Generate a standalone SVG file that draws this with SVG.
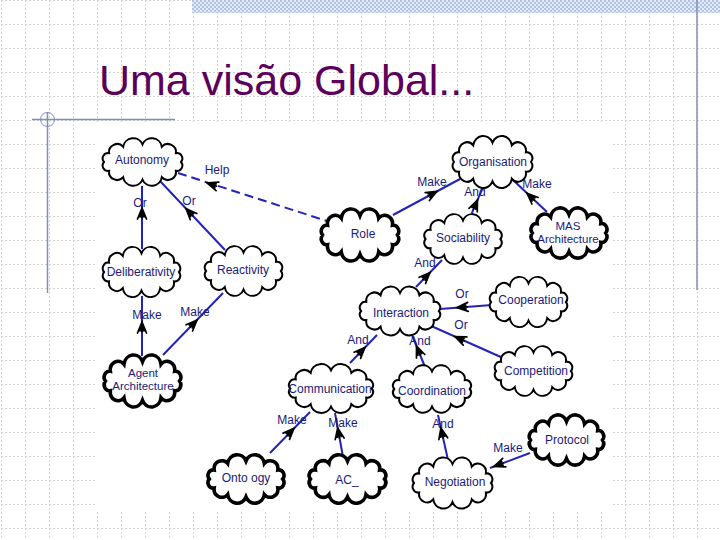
<svg xmlns="http://www.w3.org/2000/svg" width="720" height="540" viewBox="0 0 720 540">
<defs>
<style>
.c{fill:#fff;stroke:#000;stroke-width:2}
.ct{fill:#fff;stroke:#000;stroke-width:3.6}
.nt{font-family:"Liberation Sans",Arial,sans-serif;font-size:12px;fill:#1a1a7a;text-anchor:middle}
.n2{font-size:11.5px}
.ln{stroke:#2323b8;stroke-width:2;fill:none}
.dash{stroke-dasharray:9,5}
.lb{font-family:"Liberation Sans",Arial,sans-serif;font-size:12px;fill:#1a1a7a;text-anchor:middle}
.ahs{stroke:#000;stroke-width:1.7;fill:none;stroke-linecap:round}
</style>
<pattern id="grid" x="1" y="0" width="24" height="24" patternUnits="userSpaceOnUse">
<path d="M0,0.5 H24 M0.5,0 V24" stroke="#d2d2d2" stroke-width="1" stroke-dasharray="2,2" fill="none"/>
</pattern>
<pattern id="chk" width="4" height="4" patternUnits="userSpaceOnUse">
<rect width="4" height="4" fill="#e4eaf6"/>
<rect width="2" height="2" fill="#b3c3e6"/>
<rect x="2" y="2" width="2" height="2" fill="#b3c3e6"/>
</pattern>
<path id="cloud" vector-effect="non-scaling-stroke" d="M36,0 A5.2,5.2 0 0 1 31.2,8.5 A7.6,7.6 0 0 1 18,14.7 A9.4,9.4 0 0 1 0,17 A9.4,9.4 0 0 1 -18,14.7 A7.6,7.6 0 0 1 -31.2,8.5 A5.2,5.2 0 0 1 -36,0 A5.2,5.2 0 0 1 -31.2,-8.5 A7.6,7.6 0 0 1 -18,-14.7 A9.4,9.4 0 0 1 0,-17 A9.4,9.4 0 0 1 18,-14.7 A7.6,7.6 0 0 1 31.2,-8.5 A5.2,5.2 0 0 1 36,0 Z"/>
<path id="ah" class="ahs" d="M-11,-4.5 L0,0 L-11,4.5 M-1,0 L-10,0 M-9,-2 L-2,0 L-9,2"/>
</defs>

<rect width="720" height="540" fill="#fff"/>
<rect width="720" height="540" fill="url(#grid)"/>
<rect x="192" y="0" width="528" height="13" fill="url(#chk)"/>
<line x1="697" y1="0" x2="697" y2="290" stroke="#7f8fba" stroke-width="1.5"/>
<line x1="32" y1="119.5" x2="175" y2="119.5" stroke="#7f8fba" stroke-width="1.5"/>
<line x1="47.5" y1="112" x2="47.5" y2="293" stroke="#7f8fba" stroke-width="1.5"/>
<circle cx="47.5" cy="119.5" r="7" fill="none" stroke="#7f8fba" stroke-width="1"/>
<text x="99" y="95" font-family="Liberation Sans, Arial, sans-serif" font-size="43" fill="#5c005c">Uma visão Global...</text>
<rect x="97" y="122" width="514" height="390" fill="#fff"/>

<g id="connectors">
<path class="ln dash" d="M178,173 L330,222"/>
<path class="ln" d="M142,186 L142,249"/>
<path class="ln" d="M160,181 L225,250"/>
<path class="ln" d="M142,296 L142,356"/>
<path class="ln" d="M163,355 L223,293"/>
<path class="ln" d="M393,215 L460,179"/>
<path class="ln" d="M471.7,213.3 L484,185"/>
<path class="ln" d="M547,212 L513,180"/>
<path class="ln" d="M416,287 L442,260"/>
<path class="ln" d="M492,305 L440,309"/>
<path class="ln" d="M503,358 L429,325"/>
<path class="ln" d="M350,363 L377,335"/>
<path class="ln" d="M425,367 L412,335"/>
<path class="ln" d="M270,453 L310,412"/>
<path class="ln" d="M343,457 L335,413"/>
<path class="ln" d="M448,460 L438,415"/>
<path class="ln" d="M530,453 L490,468"/>
<use href="#ah" transform="translate(207,183) rotate(197.9)"/>
<use href="#ah" transform="translate(142,208) rotate(-90)"/>
<use href="#ah" transform="translate(186,208.6) rotate(226.7)"/>
<use href="#ah" transform="translate(142,322) rotate(-90)"/>
<use href="#ah" transform="translate(197,320) rotate(-46)"/>
<use href="#ah" transform="translate(437,191.4) rotate(-28.2)"/>
<use href="#ah" transform="translate(477.5,200) rotate(-66.5)"/>
<use href="#ah" transform="translate(527,193.2) rotate(223.3)"/>
<use href="#ah" transform="translate(430,272.5) rotate(-46)"/>
<use href="#ah" transform="translate(457,307.7) rotate(175.6)"/>
<use href="#ah" transform="translate(455,336.6) rotate(204)"/>
<use href="#ah" transform="translate(365,347.4) rotate(-46)"/>
<use href="#ah" transform="translate(416.5,346) rotate(247.9)"/>
<use href="#ah" transform="translate(294,428.4) rotate(-45.7)"/>
<use href="#ah" transform="translate(337.7,428) rotate(259.7)"/>
<use href="#ah" transform="translate(440.9,428) rotate(257.5)"/>
<use href="#ah" transform="translate(494,466.5) rotate(159.4)"/>
<text class="lb" x="217" y="174">Help</text>
<text class="lb" x="140" y="207">Or</text>
<text class="lb" x="189" y="205">Or</text>
<text class="lb" x="147" y="319">Make</text>
<text class="lb" x="195" y="316">Make</text>
<text class="lb" x="432" y="186">Make</text>
<text class="lb" x="475" y="196">And</text>
<text class="lb" x="537" y="188">Make</text>
<text class="lb" x="425" y="267">And</text>
<text class="lb" x="462" y="298">Or</text>
<text class="lb" x="461" y="329">Or</text>
<text class="lb" x="358" y="344">And</text>
<text class="lb" x="420" y="345">And</text>
<text class="lb" x="292" y="424">Make</text>
<text class="lb" x="343" y="427">Make</text>
<text class="lb" x="443" y="428">And</text>
<text class="lb" x="508" y="452">Make</text>
</g>

<g id="autonomy"><use href="#cloud" class="c" transform="translate(142.5,162) scale(1.07,1.04)"/><text class="nt" x="142" y="164">Autonomy</text></g>
<g id="organisation"><use href="#cloud" class="c" transform="translate(492.5,162) scale(1.07,1.14)"/><text class="nt" x="493" y="166">Organisation</text></g>
<g id="role"><use href="#cloud" class="ct" transform="translate(360,235) scale(1.04,1.14)"/><text class="nt" x="363" y="238">Role</text></g>
<g id="sociability"><use href="#cloud" class="c" transform="translate(463,239) scale(1.04,1.09)"/><text class="nt" x="463" y="242">Sociability</text></g>
<g id="mas-architecture"><use href="#cloud" class="ct" transform="translate(569,233) scale(1.02,1.1)"/><text class="nt n2" x="568" y="230">MAS</text><text class="nt n2" x="568" y="243">Architecture</text></g>
<g id="deliberativity"><use href="#cloud" class="c" transform="translate(141.5,272) scale(1.04,1.1)"/><text class="nt" x="141" y="276">Deliberativity</text></g>
<g id="reactivity"><use href="#cloud" class="c" transform="translate(243.5,271) scale(1.04,1.09)"/><text class="nt" x="243" y="274">Reactivity</text></g>
<g id="agent-architecture"><use href="#cloud" class="ct" transform="translate(142.5,381) scale(1.03,1.14)"/><text class="nt n2" x="143" y="377">Agent</text><text class="nt n2" x="143" y="390">Architecture</text></g>
<g id="interaction"><use href="#cloud" class="c" transform="translate(400,311) scale(1.08,1.07)"/><text class="nt" x="401" y="317">Interaction</text></g>
<g id="cooperation"><use href="#cloud" class="c" transform="translate(528.5,302) scale(1.04,1.1)"/><text class="nt" x="531" y="304">Cooperation</text></g>
<g id="competition"><use href="#cloud" class="c" transform="translate(533.5,371) scale(1.04,1.09)"/><text class="nt" x="536" y="375">Competition</text></g>
<g id="communication"><use href="#cloud" class="c" transform="translate(331,388.5) scale(1.13,1.07)"/><text class="nt" x="330" y="393">Communication</text></g>
<g id="coordination"><use href="#cloud" class="c" transform="translate(432,389) scale(1.05,1.04)"/><text class="nt" x="432" y="395">Coordination</text></g>
<g id="ontology"><use href="#cloud" class="ct" transform="translate(246,479) scale(1.02,1.06)"/><text class="nt" x="246" y="482">Onto ogy</text></g>
<g id="acl"><use href="#cloud" class="ct" transform="translate(347.5,479) scale(1.03,1.06)"/><text class="nt" x="347" y="484">AC_</text></g>
<g id="negotiation"><use href="#cloud" class="c" transform="translate(452.5,483) scale(1.07,1.12)"/><text class="nt" x="455" y="486">Negotiation</text></g>
<g id="protocol"><use href="#cloud" class="ct" transform="translate(566.5,440) scale(1.0,1.1)"/><text class="nt" x="567" y="444">Protocol</text></g>
</svg>
